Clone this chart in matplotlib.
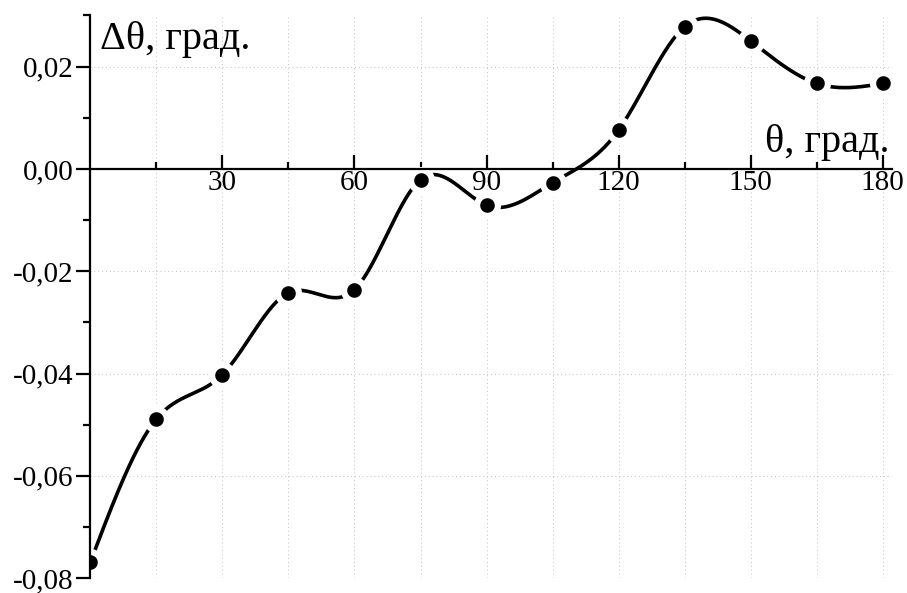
import numpy as np
import matplotlib.pyplot as plt

# measured angle error vs angle
theta = [0, 15, 30, 45, 60, 75, 90, 105, 120, 135, 150, 165, 180]
dtheta = [-0.0769, -0.0489, -0.0402, -0.0242, -0.0236, -0.0021, -0.0071,
          -0.0027, 0.0076, 0.0278, 0.0250, 0.0167, 0.0167]
xticks = [30, 60, 90, 120, 150, 180]
yticks = [-0.08, -0.06, -0.04, -0.02, 0.00, 0.02]
ytick_labels = ['-0,08', '-0,06', '-0,04', '-0,02', '0,00', '0,02']


# natural cubic spline for the smooth curve through the points
def spline(x, y, xs):
    x = np.asarray(x, float)
    y = np.asarray(y, float)
    n = len(x)
    h = np.diff(x)
    A = np.zeros((n, n))
    b = np.zeros(n)
    A[0, 0] = 1
    A[-1, -1] = 1
    for i in range(1, n - 1):
        A[i, i - 1] = h[i - 1]
        A[i, i] = 2 * (h[i - 1] + h[i])
        A[i, i + 1] = h[i]
        b[i] = 6 * ((y[i + 1] - y[i]) / h[i] - (y[i] - y[i - 1]) / h[i - 1])
    M = np.linalg.solve(A, b)
    k = np.clip(np.searchsorted(x, xs) - 1, 0, n - 2)
    t0 = x[k + 1] - xs
    t1 = xs - x[k]
    hk = h[k]
    return (M[k] * t0**3 / (6 * hk) + M[k + 1] * t1**3 / (6 * hk)
            + (y[k] / hk - M[k] * hk / 6) * t0
            + (y[k + 1] / hk - M[k + 1] * hk / 6) * t1)


plt.rcParams['font.family'] = ['Liberation Serif', 'DejaVu Serif']

fig = plt.figure(figsize=(9.07, 5.93), dpi=100)
ax = fig.add_axes([0.0996, 0.025, 0.8834, 0.949])

xs = np.linspace(0, 180, 600)
ax.plot(xs, spline(theta, dtheta, xs), color='black', lw=2.6, zorder=2)
# white rim around each dot leaves a small gap in the curve
ax.plot(theta, dtheta, 'o', color='black', ms=15, mec='white', mew=4.5,
        zorder=2.2)

ax.set_xlim(0, 182)
ax.set_ylim(-0.08, 0.03)

ax.spines['top'].set_visible(False)
ax.spines['right'].set_visible(False)
ax.spines['bottom'].set_position(('data', 0))
ax.spines['left'].set_bounds(-0.08, 0.03)
for s in ('left', 'bottom'):
    ax.spines[s].set_linewidth(1.6)
    ax.spines[s].set_zorder(3)

ax.set_xticks(xticks)
ax.set_xticks(range(15, 181, 30), minor=True)
ax.set_yticks(yticks)
ax.set_yticklabels(ytick_labels)
ax.set_yticks([-0.07, -0.05, -0.03, -0.01, 0.01, 0.03], minor=True)

ax.tick_params(axis='x', which='major', direction='in', length=10, width=1.6,
               labelsize=21, pad=1)
ax.tick_params(axis='x', which='minor', direction='in', length=5, width=1.6)
ax.tick_params(axis='y', which='major', direction='out', length=10, width=1.6,
               labelsize=21, pad=2)
ax.tick_params(axis='y', which='minor', direction='out', length=5, width=1.6)

# vertical grid every 15 degrees, horizontal on major ticks only
for gx in range(15, 181, 15):
    ax.axvline(gx, color='#c0c0c0', lw=0.7, ls=(0, (1, 3)), zorder=1)
for gy in yticks:
    ax.axhline(gy, color='#c0c0c0', lw=0.7, ls=(0, (1, 3)), zorder=1)

ax.text(2.2, 0.0252, 'Δθ, град.', fontsize=29, ha='left', va='center')
ax.text(181.5, 0.0052, 'θ, град.', fontsize=29, ha='right', va='center')

fig.savefig('out.png', dpi=100)
